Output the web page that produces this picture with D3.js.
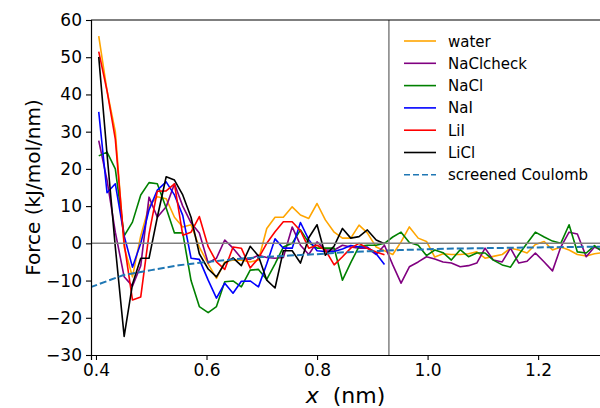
<!DOCTYPE html>
<html>
<head>
<meta charset="utf-8">
<script src="https://cdn.jsdelivr.net/npm/d3@7"></script>
<style>
  body { margin: 0; background: #fff; }
  svg { display: block; font-family: "DejaVu Sans", sans-serif; }
</style>
</head>
<body>
<svg id="chart"></svg>
<script>
// bin positions (nm)
var xs = [0.405, 0.420, 0.435, 0.451, 0.466, 0.481, 0.496, 0.511, 0.527, 0.542,
          0.557, 0.572, 0.587, 0.603, 0.618, 0.633, 0.648, 0.663, 0.679, 0.694,
          0.709, 0.724, 0.739, 0.755, 0.770, 0.785, 0.800, 0.815, 0.831, 0.846,
          0.861, 0.876, 0.891, 0.907, 0.922, 0.937, 0.952, 0.967, 0.983, 0.998,
          1.013, 1.028, 1.043, 1.059, 1.074, 1.089, 1.104, 1.119, 1.135, 1.150,
          1.165, 1.180, 1.195, 1.211, 1.226, 1.241, 1.256, 1.271, 1.287, 1.302, 1.317];

var water = [55.7, 41, 30, -1, -9, 2, 10, 12.5, 12, 7, 4.4, 5, -1, -5.5, -9.4, -5, -4.5, -4.5, -5, -4.5,
             4, 7, 7, 9.8, 7.6, 6.7, 10.7, 6.3, 3, 1.4, 1.4, 4.9, 2.8, -1, -2, -3, 0.4, 4.4, 1.4, 0.5,
             -3.7, -2.8, -3, -3, -2.8, -2.3, -4, -3.5, -3, -1.3, -1.8, -2.6, -0.3, 0.5, -1.8, -1, -1.8, -3, -3.4, -2.8, -2.5];
var naclcheck = [27.6, 17, 3, -9, -11.5, -6, 12.4, 7, 9.8, 16, 10, 5.5, 2.8, -5.3, -4, 0.9, -1.3, -4, -4.3, -3.2,
                 -3.8, -4, -3.8, 4.4, -0.5, -3, 0.4, -1.8, -1.8, -0.5, -1, -1.3, -1.3, -3, -0.5, -5.8, -10.7, -6.3, -5, -3.6,
                 -4.2, -5, -5.3, -6.3, -6, -5.3, -1.3, -4.5, -5, -1.3, -5.3, -4.8, -2.6, -5, -7.4, -1, 3, 2.5, -3.6, -1, -2];
var nacl = [23.5, 24.5, 20, 2, 5.7, 13, 16.3, 16, 9.5, 2.8, 2.8, -10, -17, -18.6, -17, -10.3, -10.1, -11.7, -7.2, -7,
            -9.7, -5.5, -1, 0, 3.6, 0.2, -1.3, -1.3, -1.3, -9.9, -5.2, -0.8, -0.5, -0.5, 0, 1.7, 3, 0.2, -0.5, -3.3,
            -1.8, -2.5, -4.5, -1.7, -3.6, -2.6, -2.6, -4.5, -5.8, -6.4, -3, 0, 3, 1.7, 0.6, 0, 5, -2.3, -2.6, -0.6, -2.3];
var nai = [35.3, 13.6, 16, 2, -6.4, 0, 9, 14.3, 16.5, 13, 7.5, -4, -4.3, -9.9, -14.7, -10.7, -13.4, -10.2, -10.1, -11.7,
           -5.5, 1.2, -1.3, -1.3, 5.6, 1, -2, -2.2, -2.2, -1.5, -0.6, -1, -1, -2.8, -5.7];
var lii = [51.5, 41, 28, 0, -15.2, -14.4, 2.5, 14, 14.1, 16, 2.2, 3, 7.2, -0.9, -5, -7, -1, -1.3, -6.6, -4,
           0, 3.1, 5.8, 5.8, 3.4, -1.3, -0.5, -1.8, -5.8, -3.6, -1.3, 0, -1.3, -2.3, -3.1];
var licl = [50.1, 24, -1, -25, -11, -4, -4, 7, 17.9, 17, 13, 7, -2.8, -6.9, -9, -5.3, -3.9, -6, -0.8, -3.4,
            -9.9, -12, -2, -2, -5.3, 1.5, 5, -3.2, -0.7, 4, 1.4, 1.8, 3.6, 0.9, -0.1];

// screened Coulomb curve
var coulX = [0.39, 0.45, 0.50, 0.55, 0.60, 0.65, 0.70, 0.75, 0.80, 0.85, 0.90, 0.95, 1.00, 1.05, 1.10, 1.15, 1.20, 1.25, 1.30, 1.32];
var coulY = [-11.8, -8.5, -7.2, -5.9, -5.0, -4.3, -3.7, -3.3, -2.9, -2.4, -2.1, -1.8, -1.6, -1.4, -1.3, -1.2, -1.1, -1.0, -0.9, -0.9];

var xTicks = [0.4, 0.6, 0.8, 1.0, 1.2];
var yTicks = [-30, -20, -10, 0, 10, 20, 30, 40, 50, 60];
var cutoff = 0.93;

var names = ["water", "NaClcheck", "NaCl", "NaI", "LiI", "LiCl"];
var colors = ["orange", "purple", "green", "blue", "red", "black"];
var series = [water, naclcheck, nacl, nai, lii, licl];

var width = 600, height = 408;
var margin = {top: 20, left: 91, right: 605, bottom: 355};

var svg = d3.select("#chart").attr("width", width).attr("height", height);

var x = d3.scaleLinear().domain([0.391, 1.321]).range([margin.left, margin.right]);
var y = d3.scaleLinear().domain([-30, 60]).range([margin.bottom, margin.top]);

var line = d3.line().x(d => x(d[0])).y(d => y(d[1]));

svg.append("defs").append("clipPath").attr("id", "clip")
  .append("rect")
  .attr("x", margin.left).attr("y", margin.top)
  .attr("width", margin.right - margin.left).attr("height", margin.bottom - margin.top);

var plot = svg.append("g").attr("clip-path", "url(#clip)");

series.forEach(function(s, i) {
  plot.append("path")
    .attr("d", line(s.map((v, j) => [xs[j], v])))
    .attr("fill", "none")
    .attr("stroke", colors[i])
    .attr("stroke-width", 1.6)
    .attr("stroke-linejoin", "round");
});

plot.append("path")
  .attr("d", line(coulX.map((v, j) => [v, coulY[j]])))
  .attr("fill", "none")
  .attr("stroke", "#1f77b4")
  .attr("stroke-width", 2)
  .attr("stroke-dasharray", "7,3");

// zero line and cutoff
plot.append("line")
  .attr("x1", margin.left).attr("x2", margin.right)
  .attr("y1", y(0)).attr("y2", y(0))
  .attr("stroke", "gray").attr("stroke-width", 1.5);
plot.append("line")
  .attr("x1", x(cutoff)).attr("x2", x(cutoff))
  .attr("y1", margin.top).attr("y2", margin.bottom)
  .attr("stroke", "gray").attr("stroke-width", 1.5);

// axes
var fmtY = d => d < 0 ? "\u2212" + Math.abs(d) : String(d);
var gx = svg.append("g")
  .attr("transform", `translate(0, ${margin.bottom})`)
  .call(d3.axisBottom(x).tickValues(xTicks).tickFormat(d3.format(".1f")).tickSize(5).tickPadding(4));
var gy = svg.append("g")
  .attr("transform", `translate(${margin.left}, 0)`)
  .call(d3.axisLeft(y).tickValues(yTicks).tickFormat(fmtY).tickSize(5).tickPadding(4));

[gx, gy].forEach(function(g) {
  g.select(".domain").attr("stroke-width", 1.2);
  g.selectAll(".tick line").attr("stroke-width", 1.1);
  g.selectAll(".tick text").attr("font-size", 17).attr("font-family", "DejaVu Sans").attr("fill", "#000");
});

svg.append("line")
  .attr("x1", margin.left).attr("x2", margin.right)
  .attr("y1", margin.top).attr("y2", margin.top)
  .attr("stroke", "#000").attr("stroke-width", 1.2);

// axis labels
svg.append("text")
  .attr("transform", `translate(40, ${(margin.top + margin.bottom) / 2}) rotate(-90)`)
  .attr("text-anchor", "middle")
  .attr("font-size", 20)
  .text("Force (kJ/mol/nm)");

var xl = svg.append("text")
  .attr("x", (margin.left + 600) / 2)
  .attr("y", 403)
  .attr("text-anchor", "middle")
  .attr("font-size", 22);
xl.append("tspan").attr("font-style", "italic").text("x");
xl.append("tspan").text("\u00a0\u00a0(nm)");

// legend
var legendNames = names.concat(["screened Coulomb"]);
var legendColors = colors.concat(["#1f77b4"]);
var legend = svg.append("g");
legendNames.forEach(function(n, i) {
  var ly = 41 + i * 22.3;
  legend.append("line")
    .attr("x1", 404).attr("x2", 436).attr("y1", ly).attr("y2", ly)
    .attr("stroke", legendColors[i])
    .attr("stroke-width", 1.6)
    .attr("stroke-dasharray", i === 6 ? "6,3" : null);
  legend.append("text")
    .attr("x", 448).attr("y", ly + 5.5)
    .attr("font-size", 15)
    .text(n);
});
</script>
</body>
</html>
